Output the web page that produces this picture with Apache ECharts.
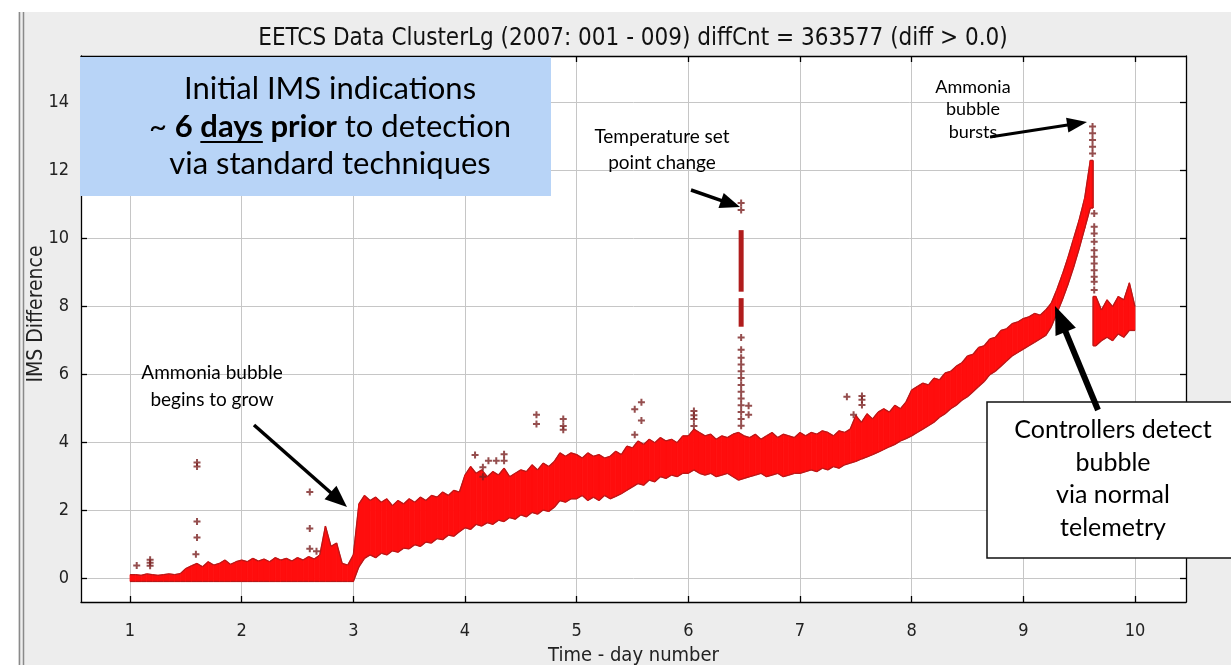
<!DOCTYPE html>
<html>
<head>
<meta charset="utf-8">
<title>EETCS Data ClusterLg</title>
<script src="https://cdn.jsdelivr.net/npm/echarts@6.0.0/dist/echarts.min.js"></script>
<style>
  html, body { margin: 0; padding: 0; background: #fff; }
  #chart { width: 1231px; height: 665px; }
</style>
</head>
<body>
<div id="chart"></div>
<script>
// tick labels
const dayTicks = [1, 2, 3, 4, 5, 6, 7, 8, 9, 10];
const diffTicks = [0, 2, 4, 6, 8, 10, 12, 14];

const sampleStart = 1;
const sampleStep = 0.05;
const bandHigh = [
  // day 1
  0.12, 0.12, 0.10, 0.14, 0.12, 0.10, 0.12, 0.14, 0.12, 0.15, 0.30, 0.38, 0.45, 0.35, 0.50, 0.40, 0.45, 0.55, 0.42, 0.50,
  // day 2
  0.55, 0.50, 0.60, 0.52, 0.58, 0.50, 0.62, 0.55, 0.60, 0.52, 0.62, 0.55, 0.65, 0.58, 0.70, 1.55, 0.95, 1.05, 0.45, 0.40,
  // day 3
  0.70, 2.20, 2.45, 2.30, 2.40, 2.25, 2.35, 2.15, 2.30, 2.20, 2.35, 2.25, 2.40, 2.30, 2.45, 2.40, 2.55, 2.45, 2.60, 2.55,
  // day 4
  3.05, 3.30, 3.10, 3.20, 3.00, 3.15, 3.05, 3.25, 3.00, 3.10, 3.20, 3.15, 3.35, 3.20, 3.40, 3.30, 3.45, 3.70, 3.60, 3.70,
  // day 5
  3.65, 3.55, 3.70, 3.60, 3.65, 3.55, 3.60, 3.75, 3.65, 3.90, 3.85, 4.05, 3.95, 4.10, 4.00, 4.15, 4.05, 4.10, 4.00, 4.20,
  // day 6
  4.20, 4.40, 4.30, 4.20, 4.25, 4.10, 4.20, 4.15, 4.25, 4.30, 4.20, 4.15, 4.25, 4.10, 4.20, 4.30, 4.15, 4.25, 4.20, 4.15,
  // day 7
  4.30, 4.20, 4.30, 4.25, 4.35, 4.30, 4.20, 4.35, 4.30, 4.40, 4.80, 4.60, 4.85, 4.70, 4.90, 5.00, 4.90, 5.10, 5.00, 5.20,
  // day 8
  5.55, 5.65, 5.75, 5.70, 5.90, 5.85, 6.05, 6.10, 6.25, 6.35, 6.55, 6.60, 6.80, 6.85, 7.05, 7.10, 7.30, 7.35, 7.50, 7.55,
  // day 9
  7.65, 7.70, 7.80, 7.75, 7.90, 8.10, 8.50, 8.95, 9.45, 10.00, 10.55, 11.20, 12.30, 8.30, 7.90, 8.20, 8.00, 8.30, 8.20, 8.70,
  // day 10
  8.00
];
const bandLow = [
  // day 1
  -0.08, -0.08, -0.08, -0.08, -0.08, -0.08, -0.08, -0.08, -0.08, -0.08, -0.08, -0.08, -0.08, -0.08, -0.08, -0.08, -0.08, -0.08, -0.08, -0.08,
  // day 2
  -0.08, -0.08, -0.08, -0.08, -0.08, -0.08, -0.08, -0.08, -0.08, -0.08, -0.08, -0.08, -0.08, -0.08, -0.08, -0.08, -0.08, -0.08, -0.08, -0.08,
  // day 3
  -0.08, 0.35, 0.60, 0.70, 0.62, 0.75, 0.70, 0.82, 0.78, 0.90, 0.88, 1.00, 0.95, 1.08, 1.05, 1.18, 1.15, 1.28, 1.25, 1.38,
  // day 4
  1.50, 1.45, 1.60, 1.55, 1.65, 1.60, 1.72, 1.68, 1.80, 1.75, 1.88, 1.82, 1.95, 1.90, 2.02, 1.98, 2.10, 2.30, 2.25, 2.35,
  // day 5
  2.35, 2.45, 2.30, 2.40, 2.30, 2.45, 2.35, 2.42, 2.50, 2.60, 2.70, 2.80, 2.75, 2.90, 2.85, 3.00, 2.95, 3.05, 3.00, 3.10,
  // day 6
  3.10, 3.20, 3.10, 3.05, 3.10, 3.00, 3.05, 3.10, 3.00, 2.90, 2.95, 3.00, 3.05, 3.10, 3.00, 3.05, 3.10, 3.00, 3.05, 3.10,
  // day 7
  3.10, 3.15, 3.20, 3.15, 3.25, 3.20, 3.30, 3.25, 3.35, 3.40, 3.45, 3.52, 3.58, 3.65, 3.72, 3.80, 3.88, 3.95, 4.05, 4.12,
  // day 8
  4.20, 4.30, 4.40, 4.50, 4.60, 4.75, 4.85, 5.00, 5.10, 5.25, 5.35, 5.50, 5.65, 5.80, 6.00, 6.10, 6.25, 6.40, 6.55, 6.65,
  // day 9
  6.75, 6.85, 6.95, 7.05, 7.15, 7.40, 7.80, 8.20, 8.65, 9.15, 9.70, 10.30, 10.90, 6.85, 7.00, 7.10, 7.00, 7.20, 7.10, 7.30,
  // day 10
  7.30
];

// dense vertical runs of points at the set point change: [day, from, to]
const spikeColumns = [
  [6.473, 8.44, 10.25],
  [6.473, 7.41, 8.25]
];

// single outlying points: [day, value]
const outliers = [
  [1.06, 0.39], [1.18, 0.56], [1.18, 0.47], [1.18, 0.38],
  [1.60, 3.42], [1.60, 3.30], [1.60, 1.68], [1.60, 1.21], [1.59, 0.72],
  [2.61, 2.55], [2.61, 1.48], [2.61, 0.88], [2.67, 0.81],
  [4.09, 3.64], [4.16, 3.28], [4.16, 3.00], [4.21, 3.47], [4.28, 3.47], [4.35, 3.66], [4.35, 3.47],
  [4.64, 4.82], [4.64, 4.55], [4.88, 4.70], [4.88, 4.49], [4.88, 4.38],
  [5.52, 4.98], [5.58, 5.19], [5.58, 4.65], [5.52, 4.23],
  [6.05, 4.93], [6.05, 4.81], [6.05, 4.70], [6.05, 4.49],
  [6.473, 11.05], [6.473, 10.84], [6.473, 7.09], [6.473, 6.73],
  [6.473, 6.50], [6.473, 6.30], [6.473, 6.10], [6.473, 5.90], [6.473, 5.70], [6.473, 5.50],
  [6.473, 5.30], [6.473, 5.10], [6.473, 4.90], [6.473, 4.70], [6.473, 4.50],
  [6.54, 5.09], [6.54, 4.82],
  [7.42, 5.35], [7.48, 4.82], [7.555, 5.37], [7.555, 5.26], [7.555, 5.11],
  [9.62, 13.30], [9.62, 13.10], [9.62, 12.90], [9.62, 12.70], [9.62, 12.50],
  [9.635, 10.74], [9.635, 10.35], [9.635, 10.15], [9.635, 9.91], [9.635, 9.66], [9.635, 9.47],
  [9.635, 9.27], [9.635, 9.07], [9.635, 8.88], [9.635, 8.73], [9.635, 8.49]
];

const axisFont = "'DejaVu Sans Condensed', 'Liberation Sans Narrow', sans-serif";
const noteFont = "Lato, 'Open Sans', sans-serif";
const bandFill = '#ff0d0d';
const bandEdge = '#b81818';

const bandData = bandLow.map(function (lo, i) {
  return [sampleStart + i * sampleStep, lo, bandHigh[i]];
});

function quad(p0, p1, p2, p3) {
  return {
    type: 'polygon',
    shape: { points: [p0, p1, p2, p3] },
    style: { fill: bandFill, stroke: bandFill, lineWidth: 0.8 }
  };
}

function edge(p0, p1) {
  return { type: 'line', shape: { x1: p0[0], y1: p0[1], x2: p1[0], y2: p1[1] }, style: { stroke: bandEdge, lineWidth: 1.3 } };
}

// one piece of the band between a sample and the next one
function renderBand(params, api) {
  const i = params.dataIndex;
  if (i >= bandData.length - 1) return null;
  const cur = bandData[i];
  const next = bandData[i + 1];
  const children = [];
  if (next[2] < cur[1] || next[1] > cur[2]) {
    // the trace jumps: two flat blocks meeting half way
    const mid = cur[0] + sampleStep / 2;
    const a0 = api.coord([cur[0], cur[2]]), a1 = api.coord([mid, cur[2]]), a2 = api.coord([mid, cur[1]]), a3 = api.coord([cur[0], cur[1]]);
    const b0 = api.coord([mid, next[2]]), b1 = api.coord([next[0], next[2]]), b2 = api.coord([next[0], next[1]]), b3 = api.coord([mid, next[1]]);
    children.push(quad(a0, a1, a2, a3), quad(b0, b1, b2, b3));
    children.push(edge(a0, a1), edge(a3, a2), edge(a1, a2), edge(b0, b1), edge(b3, b2), edge(b0, b3));
  } else {
    const p0 = api.coord([cur[0], cur[2]]), p1 = api.coord([next[0], next[2]]);
    const p2 = api.coord([next[0], next[1]]), p3 = api.coord([cur[0], cur[1]]);
    children.push(quad(p0, p1, p2, p3), edge(p0, p1), edge(p3, p2));
  }
  return { type: 'group', children: children };
}

function renderColumn(params, api) {
  const a = api.coord([api.value(0), api.value(2)]);
  const b = api.coord([api.value(0), api.value(1)]);
  return {
    type: 'rect',
    shape: { x: a[0] - 2.5, y: a[1], width: 5, height: b[1] - a[1] },
    style: { fill: '#b01c1c' }
  };
}

// arrow = shaft + triangular head
function arrow(x1, y1, x2, y2, w, headLen, headW) {
  const dx = x2 - x1, dy = y2 - y1;
  const len = Math.sqrt(dx * dx + dy * dy);
  const ux = dx / len, uy = dy / len;
  const bx = x2 - ux * headLen, by = y2 - uy * headLen;
  return [
    { type: 'line', z: 100, shape: { x1: x1, y1: y1, x2: bx + ux * 2, y2: by + uy * 2 }, style: { stroke: '#000', lineWidth: w } },
    { type: 'polygon', z: 100, shape: { points: [[x2, y2], [bx - uy * headW / 2, by + ux * headW / 2], [bx + uy * headW / 2, by - ux * headW / 2]] }, style: { fill: '#000' } }
  ];
}

const measureCtx = document.createElement('canvas').getContext('2d');
function textWidth(str, font) {
  measureCtx.font = font;
  return measureCtx.measureText(str).width;
}

// blue box, middle line with bold / underlined parts
const boxRegular = '31px ' + noteFont;
const boxBold = 'bold 31px ' + noteFont;
const line2 = [['~ ', boxRegular], ['6 ', boxBold], ['days', boxBold], [' prior', boxBold], [' to detection', boxRegular]];
const line2Widths = line2.map(function (p) { return textWidth(p[0], p[1]); });
let cursor = 330 - line2Widths.reduce(function (s, w) { return s + w; }, 0) / 2;
const line2Elements = [];
line2.forEach(function (p, i) {
  line2Elements.push({ type: 'text', z: 101, x: cursor, y: 127, style: { text: p[0], font: p[1], fill: '#000', textAlign: 'left', textVerticalAlign: 'middle' } });
  if (i === 2) {
    line2Elements.push({ type: 'line', z: 101, shape: { x1: cursor, y1: 142, x2: cursor + line2Widths[i], y2: 142 }, style: { stroke: '#000', lineWidth: 2 } });
  }
  cursor += line2Widths[i];
});

const chart = echarts.init(document.getElementById('chart'));

const tickStyle = { color: '#000', width: 1.3 };

const option = {
  backgroundColor: '#ededed',
  animation: false,
  grid: {
    left: 81, right: 45, top: 56, bottom: 63,
    show: true, backgroundColor: '#fff', borderWidth: 0,
    outerBoundsMode: 'none'
  },
  xAxis: [
    {
      type: 'value', min: 0.561, max: 10.457, position: 'bottom',
      axisLine: { show: true, onZero: false, lineStyle: { color: '#000', width: 1.3 } },
      axisTick: { show: true, inside: true, length: 6, customValues: dayTicks, lineStyle: tickStyle },
      axisLabel: { customValues: dayTicks, margin: 20, fontFamily: axisFont, fontSize: 18, color: '#222' },
      splitLine: { show: true, lineStyle: { color: '#c6c6c6', width: 1 } },
      name: 'Time - day number', nameLocation: 'middle', nameGap: 44,
      nameTextStyle: { fontFamily: axisFont, fontSize: 20, color: '#222' }
    },
    {
      type: 'value', min: 0.561, max: 10.457, position: 'top',
      axisLine: { show: true, onZero: false, lineStyle: { color: '#000', width: 1.3 } },
      axisTick: { show: true, inside: true, length: 6, customValues: dayTicks, lineStyle: tickStyle },
      axisLabel: { show: false },
      splitLine: { show: false }
    }
  ],
  yAxis: [
    {
      type: 'value', min: -0.684, max: 15.37, position: 'left',
      axisLine: { show: true, onZero: false, lineStyle: { color: '#000', width: 1.3 } },
      axisTick: { show: true, inside: true, length: 6, customValues: diffTicks, lineStyle: tickStyle },
      axisLabel: { customValues: diffTicks, margin: 12, fontFamily: axisFont, fontSize: 18, color: '#222' },
      splitLine: { show: true, lineStyle: { color: '#c6c6c6', width: 1 } }
    },
    {
      type: 'value', min: -0.684, max: 15.37, position: 'right',
      axisLine: { show: true, onZero: false, lineStyle: { color: '#000', width: 1.3 } },
      axisTick: { show: true, inside: true, length: 6, customValues: diffTicks, lineStyle: tickStyle },
      axisLabel: { show: false },
      splitLine: { show: false }
    }
  ],
  series: [
    {
      type: 'custom', name: 'band', xAxisIndex: 0, yAxisIndex: 0,
      renderItem: renderBand, data: bandData, encode: { x: 0, y: [1, 2] }, z: 3
    },
    {
      type: 'custom', name: 'spike', xAxisIndex: 0, yAxisIndex: 0,
      renderItem: renderColumn, data: spikeColumns, encode: { x: 0, y: [1, 2] }, z: 4
    },
    {
      type: 'scatter', name: 'outliers', xAxisIndex: 0, yAxisIndex: 0,
      data: outliers, symbol: 'path://M2.5,0h2v2.5h2.5v2h-2.5v2.5h-2v-2.5h-2.5v-2h2.5z',
      symbolSize: 7, itemStyle: { color: '#7a2222' }, z: 5
    }
  ],
  graphic: [
    // window frame
    { type: 'rect', z: -1, shape: { x: 0, y: 0, width: 1231, height: 12 }, style: { fill: '#fff' } },
    { type: 'rect', z: -1, shape: { x: 0, y: 0, width: 18, height: 665 }, style: { fill: '#fff' } },
    { type: 'line', z: 1, shape: { x1: 19.5, y1: 12, x2: 19.5, y2: 665 }, style: { stroke: '#8a8a8a', lineWidth: 1.5 } },
    { type: 'line', z: 1, shape: { x1: 23.5, y1: 12, x2: 23.5, y2: 665 }, style: { stroke: '#8a8a8a', lineWidth: 1.5 } },
    // title and y axis name
    { type: 'text', z: 1, x: 633, y: 39, style: { text: 'EETCS Data ClusterLg (2007: 001 - 009) diffCnt = 363577 (diff > 0.0)', font: '24px ' + axisFont, fill: '#111', textAlign: 'center', textVerticalAlign: 'middle' } },
    { type: 'text', z: 1, x: 37, y: 314, rotation: Math.PI / 2, style: { text: 'IMS Difference', font: '21px ' + axisFont, fill: '#222', textAlign: 'center', textVerticalAlign: 'middle' } },
    // blue box
    { type: 'rect', z: 100, shape: { x: 80, y: 57, width: 471, height: 139 }, style: { fill: '#b8d4f7' } },
    { type: 'text', z: 101, x: 330, y: 89, style: { text: 'Initial IMS indications', font: boxRegular, fill: '#000', textAlign: 'center', textVerticalAlign: 'middle' } },
    { type: 'text', z: 101, x: 330, y: 164, style: { text: 'via standard techniques', font: boxRegular, fill: '#000', textAlign: 'center', textVerticalAlign: 'middle' } }
  ].concat(line2Elements).concat([
    // notes
    { type: 'text', z: 101, x: 212, y: 386.5, style: { text: 'Ammonia bubble\nbegins to grow', font: '19px ' + noteFont, lineHeight: 27, fill: '#000', textAlign: 'center', textVerticalAlign: 'middle' } },
    { type: 'text', z: 101, x: 662, y: 150, style: { text: 'Temperature set\npoint change', font: '19px ' + noteFont, lineHeight: 26, fill: '#000', textAlign: 'center', textVerticalAlign: 'middle' } },
    { type: 'text', z: 101, x: 973, y: 109.5, style: { text: 'Ammonia\nbubble\nbursts', font: '18px ' + noteFont, lineHeight: 22.5, fill: '#000', textAlign: 'center', textVerticalAlign: 'middle' } },
    { type: 'rect', z: 100, shape: { x: 987, y: 402, width: 260, height: 156 }, style: { fill: '#fff', stroke: '#111', lineWidth: 1.5 } },
    { type: 'text', z: 101, x: 1113, y: 479, style: { text: 'Controllers detect\nbubble\nvia normal\ntelemetry', font: '25px ' + noteFont, lineHeight: 32.5, fill: '#000', textAlign: 'center', textVerticalAlign: 'middle' } }
  ]).concat(arrow(254, 425, 347, 507, 3.5, 22, 18))
    .concat(arrow(691, 190, 740, 207, 3.5, 20, 16))
    .concat(arrow(990, 137, 1087, 122, 3, 20, 15))
    .concat(arrow(1098, 410, 1055, 306, 6, 28, 22))
};

chart.setOption(option);
window.addEventListener('resize', function () {
  chart.resize();
});
</script>
</body>
</html>
